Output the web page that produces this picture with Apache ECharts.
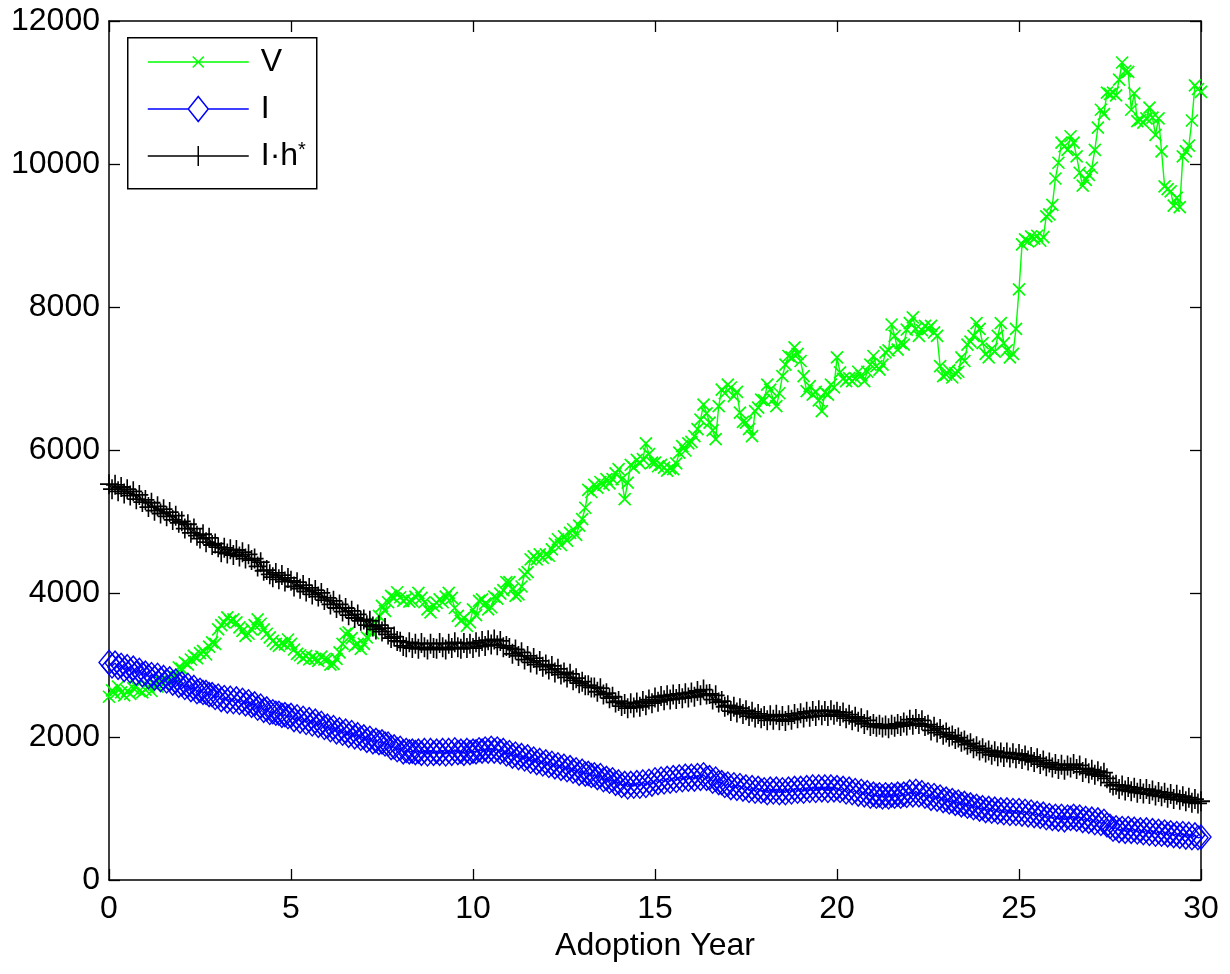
<!DOCTYPE html>
<html>
<head>
<meta charset="utf-8">
<title>Adoption Year</title>
<script src="https://cdn.jsdelivr.net/npm/echarts@6/dist/echarts.min.js"></script>
<style>
  html, body { margin: 0; padding: 0; background: #ffffff; }
  #chart { width: 1230px; height: 974px; }
</style>
</head>
<body>
<div id="chart"></div>
<script>
// Monthly samples over the 30 adoption years (index i -> year i / 12), one row per year.
const vValues = [
  2560, 2650, 2600, 2700, 2620, 2580, 2640, 2600, 2680, 2700, 2640, 2620,
  2660, 2700, 2640, 2730, 2700, 2780, 2740, 2800, 2760, 2850, 2830, 2970,
  2950, 3040, 3010, 3080, 3130, 3100, 3170, 3200, 3150, 3260, 3320, 3300,
  3500, 3560, 3600, 3670, 3620, 3640, 3600, 3530, 3480, 3410, 3440, 3500,
  3560, 3640, 3580, 3500, 3440, 3390, 3340, 3300, 3270, 3310, 3290, 3360,
  3300, 3220, 3160, 3140, 3100, 3130, 3080, 3110, 3090, 3060, 3120, 3080,
  3080, 3010, 3020, 3090, 3180, 3300, 3440, 3460, 3380, 3270, 3300, 3230,
  3300, 3390, 3500, 3450, 3580, 3690, 3830, 3760, 3880, 3970, 3940, 4020,
  3950, 3900, 3930, 3890, 3900, 3960, 4010, 3940, 3880, 3780, 3740, 3830,
  3870, 3920, 3880, 3960, 4010, 3940, 3800, 3690, 3620, 3660, 3550, 3600,
  3780, 3700, 3900, 3920, 3860, 3780, 3810, 3960, 3930, 4000, 4050, 4160,
  4160, 4060, 3970, 3990, 4100, 4270, 4300, 4480, 4520, 4480, 4550, 4500,
  4550, 4530, 4620, 4700, 4760, 4680, 4800, 4740, 4850, 4900, 4820, 4950,
  5040, 5200, 5450, 5420, 5520, 5480, 5560, 5520, 5600, 5540, 5600, 5680,
  5740, 5600, 5320, 5550, 5800, 5760, 5870, 5820, 5880, 6100, 5950, 5830,
  5830, 5780, 5800, 5760, 5720, 5750, 5740, 5820, 5970, 6060, 6000, 6100,
  6120, 6200, 6300, 6430, 6640, 6520, 6390, 6280, 6160, 6620, 6850, 6800,
  6920, 6880, 6760, 6820, 6530, 6400, 6390, 6300, 6200, 6550, 6600, 6710,
  6700, 6920, 6850, 6710, 6620, 6800, 7040, 7200, 7320, 7300, 7440, 7350,
  7250, 7040, 6830, 6900, 6780, 6820, 6700, 6550, 6810, 6780, 6920, 6880,
  7300, 7090, 7000, 6970, 7010, 6970, 7010, 7100, 7050, 6970, 7100, 7200,
  7320, 7180, 7130, 7200, 7370, 7400, 7760, 7600, 7410, 7500, 7480, 7690,
  7780, 7860, 7700, 7600, 7680, 7740, 7700, 7740, 7650, 7600, 7180, 7040,
  7060, 7120, 7020, 7080, 7100, 7300, 7250, 7480, 7520, 7600, 7780, 7700,
  7500, 7350, 7300, 7420, 7380, 7600, 7780, 7500, 7400, 7300, 7350, 7700,
  8250, 8880, 8950, 8920, 8990, 8960, 9000, 8930, 8980, 9270, 9300, 9430,
  9800, 10020, 10300, 10250, 10200, 10390, 10300, 10110, 9880, 9700, 9780, 9850,
  9950, 10200, 10510, 10760, 10700, 11000, 10980, 11000, 10960, 11180, 11420, 11300,
  11290, 10760, 10990, 10600, 10620, 10580, 10640, 10790, 10650, 10410, 10640, 10180,
  9690, 9650, 9620, 9420, 9530, 9400, 10110, 10180, 10260, 10610, 11100, 11050,
  11010
];

const iValues = [
  3040, 2990, 3030, 2970, 3000, 2940, 2980, 2920, 2960, 2890, 2930, 2870,
  2890, 2840, 2870, 2820, 2860, 2800, 2830, 2780, 2810, 2750, 2780, 2720,
  2740, 2690, 2720, 2660, 2690, 2630, 2650, 2620, 2620, 2590, 2590, 2550,
  2570, 2520, 2550, 2500, 2540, 2490, 2530, 2480, 2510, 2460, 2490, 2440,
  2460, 2400, 2430, 2370, 2390, 2340, 2350, 2330, 2330, 2300, 2310, 2280,
  2300, 2240, 2280, 2220, 2260, 2200, 2240, 2180, 2220, 2160, 2190, 2130,
  2150, 2100, 2130, 2070, 2100, 2050, 2080, 2020, 2060, 2000, 2030, 1980,
  2000, 1950, 1980, 1930, 1950, 1920, 1930, 1900, 1900, 1850, 1860, 1820,
  1840, 1790, 1810, 1790, 1800, 1780, 1800, 1770, 1810, 1760, 1810, 1770,
  1800, 1770, 1810, 1760, 1810, 1770, 1820, 1780, 1800, 1770, 1810, 1780,
  1800, 1790, 1820, 1800, 1830, 1800, 1840, 1800, 1830, 1790, 1810, 1760,
  1780, 1730, 1760, 1710, 1740, 1690, 1720, 1660, 1690, 1640, 1670, 1620,
  1650, 1600, 1630, 1580, 1610, 1560, 1590, 1540, 1570, 1520, 1540, 1490,
  1520, 1480, 1490, 1460, 1470, 1430, 1460, 1400, 1420, 1380, 1400, 1350,
  1370, 1320, 1350, 1300, 1350, 1310, 1360, 1310, 1370, 1320, 1380, 1340,
  1400, 1360, 1410, 1370, 1420, 1380, 1430, 1390, 1440, 1400, 1450, 1410,
  1450, 1410, 1460, 1420, 1470, 1420, 1430, 1380, 1410, 1360, 1360, 1320,
  1340, 1290, 1330, 1280, 1320, 1270, 1300, 1250, 1290, 1240, 1280, 1240,
  1260, 1220, 1270, 1230, 1270, 1220, 1260, 1220, 1270, 1230, 1280, 1240,
  1280, 1240, 1290, 1250, 1300, 1250, 1300, 1260, 1300, 1250, 1300, 1260,
  1290, 1250, 1280, 1230, 1270, 1220, 1250, 1200, 1240, 1190, 1220, 1170,
  1200, 1170, 1190, 1160, 1190, 1160, 1190, 1170, 1200, 1170, 1200, 1180,
  1230, 1190, 1240, 1190, 1220, 1170, 1190, 1140, 1180, 1130, 1160, 1110,
  1130, 1090, 1110, 1070, 1090, 1050, 1070, 1030, 1050, 1010, 1030, 990,
  1010, 970, 1000, 960, 990, 950, 980, 940, 980, 930, 970, 930,
  970, 920, 960, 910, 950, 900, 930, 890, 920, 870, 900, 860,
  890, 850, 890, 840, 880, 860, 890, 850, 880, 830, 860, 820,
  850, 800, 840, 790, 820, 770, 750, 710, 730, 690, 720, 680,
  720, 680, 710, 670, 700, 660, 700, 650, 690, 640, 680, 640,
  670, 630, 660, 620, 650, 610, 650, 600, 640, 590, 630, 590,
  600
];

const ihValues = [
  5530, 5460, 5520, 5430, 5490, 5400, 5460, 5370, 5430, 5320, 5380, 5280,
  5310, 5210, 5270, 5160, 5220, 5120, 5180, 5080, 5140, 5030, 5090, 4990,
  5010, 4910, 4970, 4850, 4910, 4810, 4770, 4830, 4720, 4780, 4680, 4700,
  4650, 4580, 4640, 4560, 4620, 4540, 4610, 4520, 4580, 4490, 4550, 4470,
  4490, 4380, 4440, 4320, 4330, 4270, 4230, 4290, 4200, 4260, 4170, 4220,
  4180, 4100, 4160, 4070, 4120, 4030, 4080, 3990, 4050, 3960, 4010, 3910,
  3940, 3850, 3900, 3800, 3850, 3750, 3800, 3700, 3760, 3660, 3710, 3620,
  3640, 3560, 3620, 3540, 3500, 3560, 3470, 3520, 3430, 3380, 3400, 3340,
  3330, 3270, 3250, 3320, 3240, 3300, 3230, 3310, 3250, 3220, 3300, 3240,
  3230, 3310, 3250, 3220, 3300, 3240, 3320, 3250, 3230, 3310, 3240, 3300,
  3240, 3320, 3260, 3340, 3270, 3350, 3290, 3360, 3280, 3340, 3250, 3270,
  3240, 3160, 3220, 3130, 3180, 3080, 3130, 3040, 3100, 3010, 3060, 2980,
  3010, 2940, 2990, 2900, 2950, 2870, 2900, 2830, 2880, 2790, 2820, 2750,
  2770, 2720, 2720, 2690, 2690, 2630, 2680, 2590, 2610, 2540, 2560, 2480,
  2500, 2430, 2460, 2400, 2470, 2410, 2480, 2420, 2500, 2440, 2520, 2470,
  2550, 2490, 2570, 2510, 2580, 2520, 2590, 2530, 2600, 2540, 2610, 2550,
  2620, 2560, 2640, 2580, 2660, 2590, 2600, 2520, 2580, 2480, 2500, 2420,
  2440, 2360, 2420, 2340, 2400, 2320, 2370, 2290, 2350, 2270, 2320, 2260,
  2290, 2230, 2300, 2240, 2310, 2230, 2290, 2220, 2300, 2240, 2320, 2260,
  2330, 2270, 2350, 2280, 2360, 2290, 2370, 2300, 2360, 2290, 2370, 2310,
  2350, 2290, 2340, 2260, 2310, 2230, 2280, 2210, 2260, 2180, 2230, 2150,
  2180, 2140, 2170, 2130, 2160, 2120, 2170, 2140, 2180, 2150, 2200, 2160,
  2240, 2170, 2250, 2180, 2230, 2150, 2170, 2090, 2140, 2060, 2110, 2030,
  2060, 2000, 2020, 1970, 1990, 1930, 1950, 1890, 1910, 1840, 1870, 1810,
  1840, 1780, 1810, 1750, 1800, 1730, 1780, 1720, 1780, 1710, 1770, 1700,
  1760, 1690, 1740, 1670, 1720, 1650, 1700, 1620, 1670, 1590, 1640, 1570,
  1620, 1550, 1610, 1540, 1600, 1570, 1620, 1550, 1600, 1510, 1560, 1490,
  1540, 1470, 1520, 1450, 1500, 1420, 1360, 1320, 1330, 1270, 1320, 1250,
  1300, 1240, 1290, 1220, 1270, 1210, 1270, 1200, 1250, 1180, 1230, 1170,
  1220, 1150, 1200, 1130, 1190, 1120, 1170, 1100, 1150, 1080, 1130, 1070,
  1100
];

const seriesNames = ['V', 'I', 'I·h*'];
const seriesColors = ['#00ff00', '#0000ff', '#000000'];
const xTicks = { min: 0, max: 30, step: 5 };
const yTicks = { min: 0, max: 12000, step: 2000 };
const xTitle = 'Adoption Year';
const MONTHS_PER_YEAR = 12;

const FONT = "'Liberation Sans', Arial, Helvetica, sans-serif";

// Pair each monthly value with its year position on the x axis.
function toPairs(values) {
  return values.map((v, i) => [i / MONTHS_PER_YEAR, v]);
}

// Marker outlines (open paths, stroked only).
const MARK_X = 'path://M0,0L10,10M10,0L0,10';
const MARK_PLUS = 'path://M5,0L5,10M0,5L10,5';
const MARK_DIAMOND = 'path://M5,0L10,5L5,10L0,5Z';

// Legend icons: line sample with marker in the middle, drawn in a 108 x 26 box.
const LEG_BOX = 'M0,0M108,26';
const legendIcons = [
  'path://' + LEG_BOX + 'M0,13L101,13M45,7.5L56,18.5M56,7.5L45,18.5',
  'path://' + LEG_BOX + 'M0,13L40.5,13M60.5,13L101,13M50.5,0.5L60.5,13L50.5,25.5L40.5,13Z',
  'path://' + LEG_BOX + 'M0,13L101,13M50.5,3L50.5,23M41.5,13L59.5,13'
];

const CLEAR = 'rgba(0,0,0,0)';

function frameAxis(extra) {
  return Object.assign({
    type: 'value',
    axisLine: { show: true, onZero: false, lineStyle: { color: '#000', width: 1.5 } },
    axisTick: { show: true, inside: true, length: 11, lineStyle: { color: '#000', width: 1.3 } },
    splitLine: { show: false },
    axisLabel: { show: false }
  }, extra);
}

const chart = echarts.init(document.getElementById('chart'), null, { renderer: 'canvas' });

chart.setOption({
  animation: false,
  backgroundColor: '#ffffff',
  grid: { left: 109, right: 29, top: 21, bottom: 94, containLabel: false },
  xAxis: [
    frameAxis({
      position: 'bottom',
      min: xTicks.min, max: xTicks.max, interval: xTicks.step,
      axisLabel: { show: true, color: '#000', fontFamily: FONT, fontSize: 32, margin: 13,
        formatter: v => String(v) },
      name: xTitle,
      nameLocation: 'middle',
      nameGap: 46,
      nameTextStyle: { color: '#000', fontFamily: FONT, fontSize: 32 }
    }),
    frameAxis({ position: 'top', min: xTicks.min, max: xTicks.max, interval: xTicks.step })
  ],
  yAxis: [
    frameAxis({
      position: 'left',
      min: yTicks.min, max: yTicks.max, interval: yTicks.step,
      axisLabel: { show: true, color: '#000', fontFamily: FONT, fontSize: 32, margin: 9,
        formatter: v => String(v) }
    }),
    frameAxis({ position: 'right', min: yTicks.min, max: yTicks.max, interval: yTicks.step })
  ],
  graphic: [{
    type: 'rect',
    left: 127, top: 37,
    shape: { width: 189, height: 151 },
    style: { fill: '#ffffff', stroke: '#000000', lineWidth: 1.5 },
    z: 8
  }],
  legend: {
    orient: 'vertical',
    left: 147, top: 46,
    padding: 0,
    itemWidth: 108, itemHeight: 26, itemGap: 15,
    selectedMode: false,
    z: 10,
    textStyle: {
      color: '#000', fontFamily: FONT, fontSize: 32,
      rich: { sup: { color: '#000', fontFamily: FONT, fontSize: 20, verticalAlign: 'top' } }
    },
    formatter: function (name) {
      return name === 'I·h*' ? 'I·h{sup|*}' : name;
    },
    data: seriesNames.map((name, k) => ({
      name: name,
      icon: legendIcons[k],
      itemStyle: { color: CLEAR, borderColor: seriesColors[k], borderWidth: 1.5 }
    }))
  },
  series: [
    {
      name: seriesNames[0], type: 'line', data: toPairs(vValues),
      symbol: MARK_X, symbolSize: 12, showAllSymbol: true, clip: false,
      itemStyle: { color: CLEAR, borderColor: seriesColors[0], borderWidth: 1.7 },
      lineStyle: { color: seriesColors[0], width: 1.4 },
      emphasis: { disabled: true }
    },
    {
      name: seriesNames[1], type: 'line', data: toPairs(iValues),
      symbol: MARK_DIAMOND, symbolSize: [20, 24], showAllSymbol: true, clip: false,
      itemStyle: { color: CLEAR, borderColor: seriesColors[1], borderWidth: 1.4 },
      lineStyle: { color: seriesColors[1], width: 1.3 },
      emphasis: { disabled: true }
    },
    {
      name: seriesNames[2], type: 'line', data: toPairs(ihValues),
      symbol: MARK_PLUS, symbolSize: [18, 20], showAllSymbol: true, clip: false,
      itemStyle: { color: CLEAR, borderColor: seriesColors[2], borderWidth: 1.7 },
      lineStyle: { color: seriesColors[2], width: 1.3 },
      emphasis: { disabled: true }
    }
  ]
});
</script>
</body>
</html>
